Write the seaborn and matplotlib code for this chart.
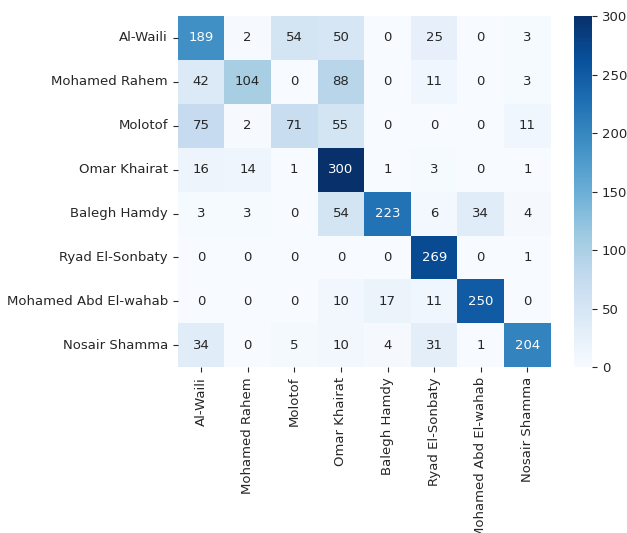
import numpy as np
import matplotlib
matplotlib.use("Agg")
import matplotlib.pyplot as plt
import seaborn as sns

labels = ["Al-Waili", "Mohamed Rahem", "Molotof", "Omar Khairat",
          "Balegh Hamdy", "Ryad El-Sonbaty", "Mohamed Abd El-wahab", "Nosair Shamma"]

row_al_waili = [189, 2, 54, 50, 0, 25, 0, 3]
row_rahem = [42, 104, 0, 88, 0, 11, 0, 3]
row_molotof = [75, 2, 71, 55, 0, 0, 0, 11]
row_khairat = [16, 14, 1, 300, 1, 3, 0, 1]
row_hamdy = [3, 3, 0, 54, 223, 6, 34, 4]
row_sonbaty = [0, 0, 0, 0, 0, 269, 0, 1]
row_wahab = [0, 0, 0, 10, 17, 11, 250, 0]
row_shamma = [34, 0, 5, 10, 4, 31, 1, 204]

cm = np.array([row_al_waili, row_rahem, row_molotof, row_khairat,
               row_hamdy, row_sonbaty, row_wahab, row_shamma])

plt.rcParams["font.size"] = 9.5
plt.rcParams["text.color"] = "#262626"
plt.rcParams["xtick.color"] = "#262626"
plt.rcParams["ytick.color"] = "#262626"

fig = plt.figure(figsize=(6.27, 5.33), dpi=100)
ax = fig.add_axes([0.2834, 0.311, 0.595, 0.659])
cax = fig.add_axes([0.9155, 0.311, 0.0287, 0.659])

sns.heatmap(cm, annot=True, fmt="d", cmap="Blues", vmin=0, vmax=300,
            xticklabels=labels, yticklabels=labels, ax=ax, cbar_ax=cax,
            annot_kws={"fontsize": 9.5})
ax.tick_params(axis="x", rotation=90, labelsize=9.5)
ax.tick_params(axis="y", rotation=0, labelsize=9.5)
cax.tick_params(labelsize=9.5)

fig.savefig("out.png", dpi=100)
